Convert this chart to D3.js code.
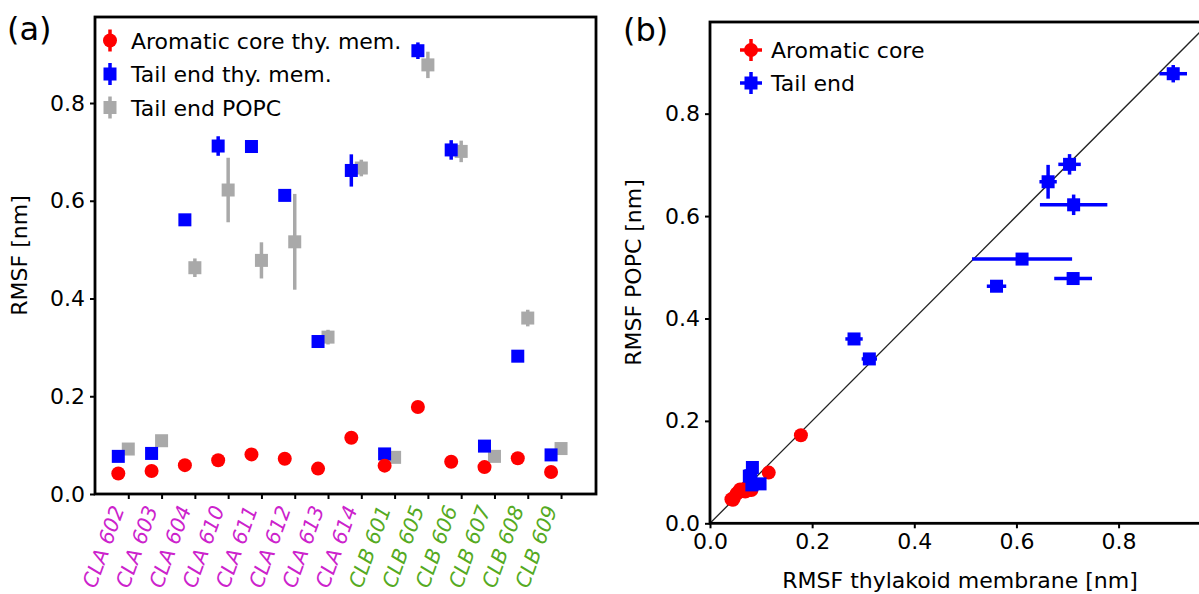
<!DOCTYPE html>
<html>
  <head>
    <script src="https://cdn.jsdelivr.net/npm/d3@7"></script>
    <style>
      body { margin: 0; background: #ffffff; }
      text { font-family: "DejaVu Sans", sans-serif; }
    </style>
  </head>
  <body>
    <svg width="1199" height="594" id="mainsvg" style="background-color: #ffffff;"></svg>
    <script>
        // @data
        const categories = ['CLA 602', 'CLA 603', 'CLA 604', 'CLA 610', 'CLA 611', 'CLA 612', 'CLA 613',
                            'CLA 614', 'CLB 601', 'CLB 605', 'CLB 606', 'CLB 607', 'CLB 608', 'CLB 609'];
        // aromatic core, thylakoid membrane
        const coreThy    = [0.042, 0.047, 0.059, 0.069, 0.081, 0.072, 0.052, 0.115, 0.058, 0.178, 0.066, 0.055, 0.073, 0.045];
        const coreThyErr = [0.004, 0.004, 0.004, 0.004, 0.004, 0.004, 0.004, 0.004, 0.004, 0.004, 0.004, 0.004, 0.004, 0.004];
        // aromatic core, POPC (only in panel b)
        const corePopc   = [0.047, 0.050, 0.066, 0.062, 0.065, 0.070, 0.058, 0.099, 0.062, 0.172, 0.063, 0.060, 0.064, 0.046];
        // tail end, thylakoid membrane
        const tailThy    = [0.077, 0.083, 0.561, 0.712, 0.711, 0.611, 0.312, 0.662, 0.082, 0.907, 0.704, 0.098, 0.282, 0.080];
        const tailThyErr = [0.005, 0.005, 0.006, 0.020, 0.006, 0.006, 0.006, 0.033, 0.005, 0.017, 0.020, 0.005, 0.006, 0.005];
        // tail end, POPC
        const tailPopc    = [0.092, 0.109, 0.463, 0.622, 0.478, 0.516, 0.321, 0.667, 0.075, 0.878, 0.701, 0.077, 0.360, 0.093];
        const tailPopcErr = [0.005, 0.005, 0.019, 0.066, 0.037, 0.098, 0.015, 0.017, 0.005, 0.027, 0.022, 0.005, 0.017, 0.005];

        const yTicks = [0.0, 0.2, 0.4, 0.6, 0.8];
        const xTicksB = [0.0, 0.2, 0.4, 0.6, 0.8];

        const legendA = ['Aromatic core thy. mem.', 'Tail end thy. mem.', 'Tail end POPC'];
        const legendB = ['Aromatic core', 'Tail end'];

        const RED = '#ff0000', BLUE = '#0000ff', GRAY = '#a9a9a9';
        const CLA_COLOR = '#cc22cc', CLB_COLOR = '#55aa22';
        const FS = 22;

        // @canvas
        const svg = d3.select('#mainsvg');

        // ---------- panel (a) ----------
        const xA = d3.scaleLinear().domain([-1, 14.05]).range([95, 596]);
        const yA = d3.scaleLinear().domain([0, 0.976]).range([494, 17]);
        const off = -0.3;   // thylakoid series sit left of the tick

        const gA = svg.append('g').attr('id', 'panelA');

        const drawSquare = function(sel, cx, cy, color) {
            sel.append('rect')
                .attr('x', cx - 6.5).attr('y', cy - 6.5)
                .attr('width', 13).attr('height', 13)
                .attr('fill', color);
        };

        // gray: tail end POPC
        categories.forEach((c, i) => {
            gA.append('line')
                .attr('x1', xA(i)).attr('x2', xA(i))
                .attr('y1', yA(tailPopc[i] - tailPopcErr[i])).attr('y2', yA(tailPopc[i] + tailPopcErr[i]))
                .attr('stroke', GRAY).attr('stroke-width', 3.5);
            drawSquare(gA, xA(i), yA(tailPopc[i]), GRAY);
        });
        // blue: tail end thy. mem.
        categories.forEach((c, i) => {
            gA.append('line')
                .attr('x1', xA(i + off)).attr('x2', xA(i + off))
                .attr('y1', yA(tailThy[i] - tailThyErr[i])).attr('y2', yA(tailThy[i] + tailThyErr[i]))
                .attr('stroke', BLUE).attr('stroke-width', 3.5);
            drawSquare(gA, xA(i + off), yA(tailThy[i]), BLUE);
        });
        // red: aromatic core thy. mem.
        categories.forEach((c, i) => {
            gA.append('line')
                .attr('x1', xA(i + off)).attr('x2', xA(i + off))
                .attr('y1', yA(coreThy[i] - coreThyErr[i])).attr('y2', yA(coreThy[i] + coreThyErr[i]))
                .attr('stroke', RED).attr('stroke-width', 3.5);
            gA.append('circle')
                .attr('cx', xA(i + off)).attr('cy', yA(coreThy[i]))
                .attr('r', 7).attr('fill', RED);
        });

        // axes (a)
        gA.append('g')
            .attr('transform', 'translate(95,0)')
            .call(d3.axisLeft(yA).tickValues(yTicks).tickFormat(d3.format('.1f')).tickSize(5).tickPadding(5));
        const axA_x = gA.append('g')
            .attr('transform', 'translate(0,494)')
            .call(d3.axisBottom(xA).tickValues(d3.range(categories.length)).tickFormat(i => categories[i]).tickSize(5));

        gA.append('rect')
            .attr('x', 95).attr('y', 17).attr('width', 596 - 95).attr('height', 494 - 17)
            .attr('fill', 'none').attr('stroke', 'black').attr('stroke-width', 2.8);

        gA.append('text')
            .attr('transform', 'translate(27,255.5) rotate(-90)')
            .attr('text-anchor', 'middle')
            .style('font-size', FS + 'px')
            .text('RMSF [nm]');

        gA.append('text')
            .attr('x', 7).attr('y', 40)
            .style('font-size', '32px')
            .text('(a)');

        // legend (a)
        const legColorsA = [RED, BLUE, GRAY];
        const legA = gA.selectAll('.legendA')
            .data(legendA)
            .enter().append('g')
            .attr('class', 'legendA')
            .attr('transform', (d, i) => 'translate(110,' + (40.5 + i * 33.5) + ')');
        legA.append('line')
            .attr('x1', 0).attr('x2', 0).attr('y1', -11).attr('y2', 11)
            .attr('stroke', (d, i) => legColorsA[i]).attr('stroke-width', 3.5);
        legA.each(function(d, i) {
            const s = d3.select(this);
            if (i === 0) s.append('circle').attr('r', 7).attr('fill', RED);
            else drawSquare(s, 0, 0, legColorsA[i]);
        });
        legA.append('text')
            .attr('x', 21).attr('y', 8)
            .style('font-size', FS + 'px')
            .text(d => d);

        // ---------- panel (b) ----------
        const xB = d3.scaleLinear().domain([0, 0.979]).range([710, 1210]);
        const yB = d3.scaleLinear().domain([0, 0.979]).range([523.3, 22]);

        const gB = svg.append('g').attr('id', 'panelB');

        gB.append('line')
            .attr('x1', xB(0)).attr('y1', yB(0))
            .attr('x2', xB(0.979)).attr('y2', yB(0.979))
            .attr('stroke', '#222').attr('stroke-width', 1.3);

        // red: aromatic core
        categories.forEach((c, i) => {
            gB.append('line')
                .attr('x1', xB(coreThy[i])).attr('x2', xB(coreThy[i]))
                .attr('y1', yB(corePopc[i] - coreThyErr[i])).attr('y2', yB(corePopc[i] + coreThyErr[i]))
                .attr('stroke', RED).attr('stroke-width', 3.5);
            gB.append('circle')
                .attr('cx', xB(coreThy[i])).attr('cy', yB(corePopc[i]))
                .attr('r', 7).attr('fill', RED);
        });
        // blue: tail end
        categories.forEach((c, i) => {
            gB.append('line')
                .attr('x1', xB(tailThy[i] - tailPopcErr[i])).attr('x2', xB(tailThy[i] + tailPopcErr[i]))
                .attr('y1', yB(tailPopc[i])).attr('y2', yB(tailPopc[i]))
                .attr('stroke', BLUE).attr('stroke-width', 3.5);
            gB.append('line')
                .attr('x1', xB(tailThy[i])).attr('x2', xB(tailThy[i]))
                .attr('y1', yB(tailPopc[i] - tailThyErr[i])).attr('y2', yB(tailPopc[i] + tailThyErr[i]))
                .attr('stroke', BLUE).attr('stroke-width', 3.5);
            drawSquare(gB, xB(tailThy[i]), yB(tailPopc[i]), BLUE);
        });

        gB.append('g')
            .attr('transform', 'translate(710,0)')
            .call(d3.axisLeft(yB).tickValues(yTicks).tickFormat(d3.format('.1f')).tickSize(5).tickPadding(5));
        gB.append('g')
            .attr('transform', 'translate(0,523.3)')
            .call(d3.axisBottom(xB).tickValues(xTicksB).tickFormat(d3.format('.1f')).tickSize(5).tickPadding(5));

        gB.append('rect')
            .attr('x', 710).attr('y', 22).attr('width', 500).attr('height', 523.3 - 22)
            .attr('fill', 'none').attr('stroke', 'black').attr('stroke-width', 2.8);

        gB.append('text')
            .attr('transform', 'translate(641,272.5) rotate(-90)')
            .attr('text-anchor', 'middle')
            .style('font-size', FS + 'px')
            .text('RMSF POPC [nm]');
        gB.append('text')
            .attr('x', 960).attr('y', 588)
            .attr('text-anchor', 'middle')
            .style('font-size', FS + 'px')
            .text('RMSF thylakoid membrane [nm]');

        gB.append('text')
            .attr('x', 623).attr('y', 41)
            .style('font-size', '32px')
            .text('(b)');

        // legend (b)
        const legColorsB = [RED, BLUE];
        const legB = gB.selectAll('.legendB')
            .data(legendB)
            .enter().append('g')
            .attr('class', 'legendB')
            .attr('transform', (d, i) => 'translate(751,' + (50 + i * 33) + ')');
        legB.append('line')
            .attr('x1', -11).attr('x2', 11).attr('y1', 0).attr('y2', 0)
            .attr('stroke', (d, i) => legColorsB[i]).attr('stroke-width', 3.5);
        legB.append('line')
            .attr('x1', 0).attr('x2', 0).attr('y1', -11).attr('y2', 11)
            .attr('stroke', (d, i) => legColorsB[i]).attr('stroke-width', 3.5);
        legB.each(function(d, i) {
            const s = d3.select(this);
            if (i === 0) s.append('circle').attr('r', 7).attr('fill', RED);
            else drawSquare(s, 0, 0, BLUE);
        });
        legB.append('text')
            .attr('x', 20).attr('y', 8)
            .style('font-size', FS + 'px')
            .text(d => d);

        // axis styling shared by both panels
        svg.selectAll('.domain').remove();
        svg.selectAll('.tick line').attr('stroke', 'black').attr('stroke-width', 2);
        svg.selectAll('.tick text').style('font-size', FS + 'px');

        // rotated, coloured category labels
        axA_x.selectAll('text')
            .attr('x', 0).attr('y', 0).attr('dy', 0)
            .attr('transform', 'translate(-4,15) rotate(-70)')
            .style('text-anchor', 'end')
            .style('font-style', 'italic')
            .style('font-size', '20.5px')
            .attr('fill', (d) => categories[d].startsWith('CLA') ? CLA_COLOR : CLB_COLOR);
    </script>
  </body>
</html>
